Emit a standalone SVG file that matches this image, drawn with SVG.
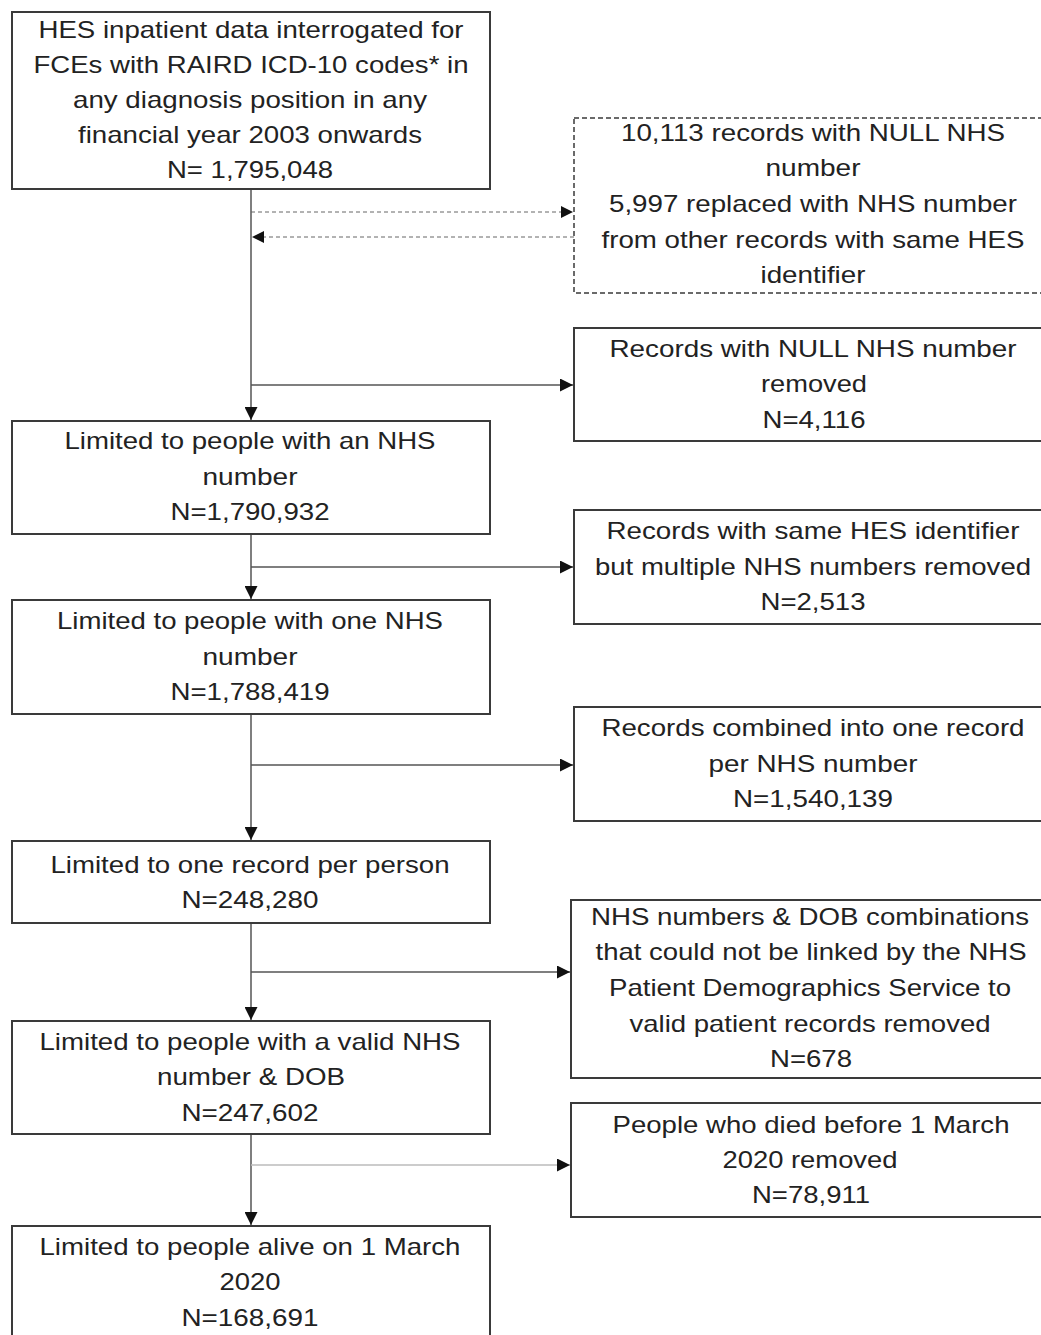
<svg xmlns="http://www.w3.org/2000/svg" width="1041" height="1335" viewBox="0 0 1041 1335">
<style>
.box{fill:#fff;stroke:#3a3a3a;stroke-width:2}
.dbox{fill:#fff;stroke:#3a3a3a;stroke-width:1.5;stroke-dasharray:5 3}
text{font-family:"Liberation Sans",Arial,sans-serif;font-size:24px;fill:#222;text-anchor:middle}
.ln{stroke:#555;stroke-width:1.5;fill:none}
.dl{stroke:#666;stroke-width:1;stroke-dasharray:4 3;fill:none}
</style>
<defs>
<marker id="ah" viewBox="0 0 10 10" refX="10" refY="5" markerWidth="12" markerHeight="12" markerUnits="userSpaceOnUse" orient="auto"><path d="M0,0 L10,5 L0,10 z" fill="#111"/></marker>
<marker id="ahs" viewBox="0 0 10 10" refX="10" refY="5" markerWidth="13" markerHeight="13" markerUnits="userSpaceOnUse" orient="auto"><path d="M0,0 L10,5 L0,10 z" fill="#111"/></marker>
</defs>
<rect width="1041" height="1335" fill="#fff"/>
<g id="connectors">
<line class="ln" x1="251" y1="189" x2="251" y2="420" marker-end="url(#ahs)"/>
<line class="dl" x1="251" y1="212" x2="573" y2="212" marker-end="url(#ah)"/>
<line class="dl" x1="574" y1="237" x2="252" y2="237" marker-end="url(#ah)"/>
<line class="ln" x1="251" y1="385" x2="573" y2="385" marker-end="url(#ahs)"/>
<line class="ln" x1="251" y1="534" x2="251" y2="599" marker-end="url(#ahs)"/>
<line class="ln" x1="251" y1="567" x2="573" y2="567" marker-end="url(#ahs)"/>
<line class="ln" x1="251" y1="714" x2="251" y2="840" marker-end="url(#ahs)"/>
<line class="ln" x1="251" y1="765" x2="573" y2="765" marker-end="url(#ahs)"/>
<line class="ln" x1="251" y1="923" x2="251" y2="1020" marker-end="url(#ahs)"/>
<line class="ln" x1="251" y1="972" x2="570" y2="972" marker-end="url(#ahs)"/>
<line class="ln" x1="251" y1="1134" x2="251" y2="1225" marker-end="url(#ahs)"/>
<line class="ln" x1="251" y1="1165" x2="570" y2="1165" marker-end="url(#ahs)" style="stroke:#bbb"/>
</g>
<g id="n1">
<rect class="box" x="12" y="12" width="478" height="177"/>
<text x="251" y="38" textLength="425" lengthAdjust="spacingAndGlyphs">HES inpatient data interrogated for</text>
<text x="251" y="73" textLength="435" lengthAdjust="spacingAndGlyphs">FCEs with RAIRD ICD-10 codes* in</text>
<text x="250" y="108" textLength="354" lengthAdjust="spacingAndGlyphs">any diagnosis position in any</text>
<text x="250" y="143" textLength="344" lengthAdjust="spacingAndGlyphs">financial year 2003 onwards</text>
<text x="250" y="178" textLength="166" lengthAdjust="spacingAndGlyphs">N= 1,795,048</text>
</g>
<g id="n_null">
<rect class="dbox" x="574" y="118" width="480" height="175"/>
<text x="813" y="141" textLength="384" lengthAdjust="spacingAndGlyphs">10,113 records with NULL NHS</text>
<text x="813" y="176" textLength="95" lengthAdjust="spacingAndGlyphs">number</text>
<text x="813" y="212" textLength="408" lengthAdjust="spacingAndGlyphs">5,997 replaced with NHS number</text>
<text x="813" y="248" textLength="423" lengthAdjust="spacingAndGlyphs">from other records with same HES</text>
<text x="813" y="283" textLength="105" lengthAdjust="spacingAndGlyphs">identifier</text>
</g>
<g id="r1">
<rect class="box" x="574" y="328" width="480" height="113"/>
<text x="813" y="357" textLength="407" lengthAdjust="spacingAndGlyphs">Records with NULL NHS number</text>
<text x="814" y="392" textLength="106" lengthAdjust="spacingAndGlyphs">removed</text>
<text x="814" y="428" textLength="103" lengthAdjust="spacingAndGlyphs">N=4,116</text>
</g>
<g id="n2">
<rect class="box" x="12" y="421" width="478" height="113"/>
<text x="250" y="449" textLength="371" lengthAdjust="spacingAndGlyphs">Limited to people with an NHS</text>
<text x="250" y="485" textLength="95" lengthAdjust="spacingAndGlyphs">number</text>
<text x="250" y="520" textLength="159" lengthAdjust="spacingAndGlyphs">N=1,790,932</text>
</g>
<g id="r2">
<rect class="box" x="574" y="510" width="480" height="114"/>
<text x="813" y="539" textLength="413" lengthAdjust="spacingAndGlyphs">Records with same HES identifier</text>
<text x="813" y="575" textLength="436" lengthAdjust="spacingAndGlyphs">but multiple NHS numbers removed</text>
<text x="813" y="610" textLength="105" lengthAdjust="spacingAndGlyphs">N=2,513</text>
</g>
<g id="n3">
<rect class="box" x="12" y="600" width="478" height="114"/>
<text x="250" y="629" textLength="386" lengthAdjust="spacingAndGlyphs">Limited to people with one NHS</text>
<text x="250" y="665" textLength="95" lengthAdjust="spacingAndGlyphs">number</text>
<text x="250" y="700" textLength="159" lengthAdjust="spacingAndGlyphs">N=1,788,419</text>
</g>
<g id="r3">
<rect class="box" x="574" y="707" width="480" height="114"/>
<text x="813" y="736" textLength="423" lengthAdjust="spacingAndGlyphs">Records combined into one record</text>
<text x="813" y="772" textLength="209" lengthAdjust="spacingAndGlyphs">per NHS number</text>
<text x="813" y="807" textLength="160" lengthAdjust="spacingAndGlyphs">N=1,540,139</text>
</g>
<g id="n4">
<rect class="box" x="12" y="841" width="478" height="82"/>
<text x="250" y="873" textLength="399" lengthAdjust="spacingAndGlyphs">Limited to one record per person</text>
<text x="250" y="908" textLength="137" lengthAdjust="spacingAndGlyphs">N=248,280</text>
</g>
<g id="r4">
<rect class="box" x="571" y="900" width="483" height="178"/>
<text x="810" y="925" textLength="438" lengthAdjust="spacingAndGlyphs">NHS numbers &amp; DOB combinations</text>
<text x="811" y="960" textLength="431" lengthAdjust="spacingAndGlyphs">that could not be linked by the NHS</text>
<text x="810" y="996" textLength="402" lengthAdjust="spacingAndGlyphs">Patient Demographics Service to</text>
<text x="810" y="1032" textLength="361" lengthAdjust="spacingAndGlyphs">valid patient records removed</text>
<text x="811" y="1067" textLength="82" lengthAdjust="spacingAndGlyphs">N=678</text>
</g>
<g id="n5">
<rect class="box" x="12" y="1021" width="478" height="113"/>
<text x="250" y="1050" textLength="421" lengthAdjust="spacingAndGlyphs">Limited to people with a valid NHS</text>
<text x="251" y="1085" textLength="188" lengthAdjust="spacingAndGlyphs">number &amp; DOB</text>
<text x="250" y="1121" textLength="137" lengthAdjust="spacingAndGlyphs">N=247,602</text>
</g>
<g id="r5">
<rect class="box" x="571" y="1103" width="483" height="114"/>
<text x="811" y="1133" textLength="397" lengthAdjust="spacingAndGlyphs">People who died before 1 March</text>
<text x="810" y="1168" textLength="175" lengthAdjust="spacingAndGlyphs">2020 removed</text>
<text x="811" y="1203" textLength="118" lengthAdjust="spacingAndGlyphs">N=78,911</text>
</g>
<g id="n6">
<rect class="box" x="12" y="1226" width="478" height="120"/>
<text x="250" y="1255" textLength="421" lengthAdjust="spacingAndGlyphs">Limited to people alive on 1 March</text>
<text x="250" y="1290" textLength="61" lengthAdjust="spacingAndGlyphs">2020</text>
<text x="250" y="1326" textLength="137" lengthAdjust="spacingAndGlyphs">N=168,691</text>
</g>
</svg>
